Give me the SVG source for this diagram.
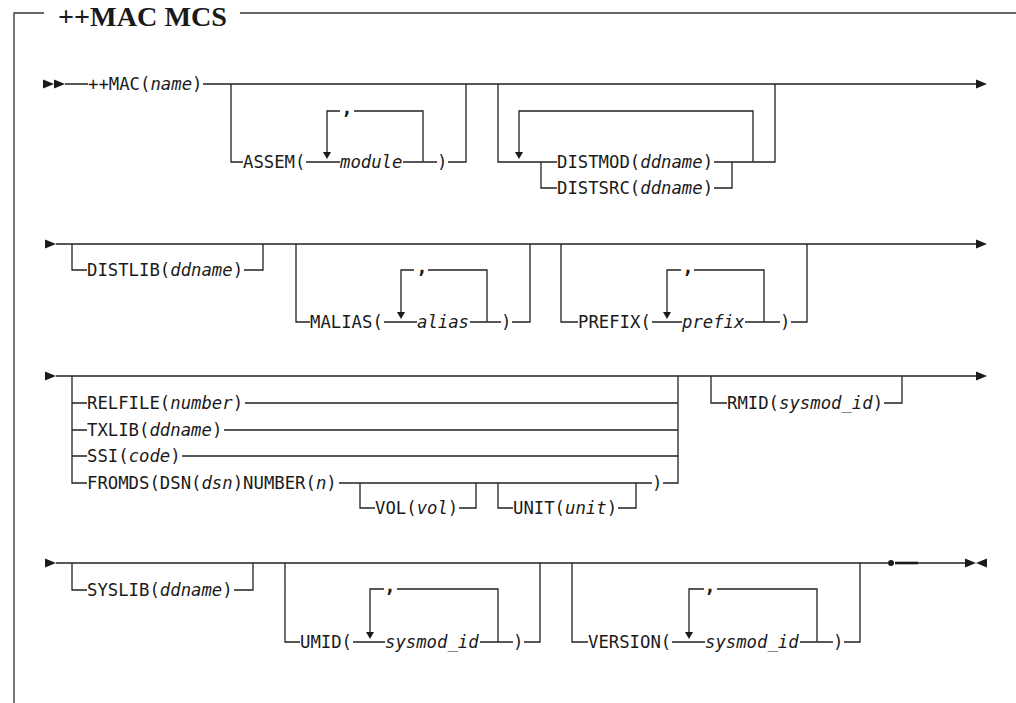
<svg xmlns="http://www.w3.org/2000/svg" xmlns:xlink="http://www.w3.org/1999/xlink" width="1016" height="703" viewBox="0 0 1016 703">
<style>
.ln{fill:none;stroke:#222;stroke-width:1.3}
.fr{fill:none;stroke:#333;stroke-width:1.3}
.t{font-family:"DejaVu Sans Mono",monospace;font-size:17.3px;fill:#1a1a1a}
.i{font-style:italic}
.cm{font-family:"DejaVu Sans Mono",monospace;font-size:19px;font-weight:bold;fill:#1a1a1a}
.ttl{font-family:"Liberation Serif","Times New Roman",serif;font-weight:bold;font-size:27px;fill:#1a1a1a}
.ar{fill:#1a1a1a}
</style>
<defs>
<path id="rt" d="M0,-4.5 L11,0 L0,4.5Z"/>
<path id="lf" d="M0,0 L11,-4.5 L11,4.5Z"/>
<path id="dn" d="M-4,-7 L4,-7 L0,0Z"/>
</defs>
<rect width="1016" height="703" fill="#fff"/>
<g id="frame">
<path class="fr" d="M44,13 H14 V703 M240,13 H1016"/>
<text class="ttl" x="58" y="26" textLength="169" lengthAdjust="spacingAndGlyphs">++MAC MCS</text>
</g>
<g id="connectors">
<path class="ln" d="M65,84 H88 M203,84 H976
M231,84 V162 H243 M306,162 H340 M403,162 H437 M448,162 H466 V84
M423,162 V111 H354 M340,111 H327 V152
M498,84 V162 H557 M714,162 H775 V84 M541,162 V188 H557 M714,188 H732 V162
M753,162 V111 H519 V152"/>
<path class="ln" d="M56,244 H976
M72,244 V270 H87 M244,270 H263 V244
M296,244 V322 H310 M384,322 H417 M470,322 H501 M512,322 H530 V244
M487,322 V270 H428 M414,270 H401 V312
M561,244 V322 H578 M652,322 H682 M745,322 H780 M791,322 H807 V244
M764,322 V270 H694 M681,270 H667 V312"/>
<path class="ln" d="M56,376 H976
M72,376 V483 H87 M72,403 H87 M72,430 H87 M72,456 H87
M245,403 H678 M224,430 H678 M182,456 H678
M339,483 H652 M663,483 H678 V376
M360,483 V508 H375 M459,508 H476 V483
M498,483 V508 H513 M618,508 H636 V483
M711,376 V403 H727 M884,403 H902 V376"/>
<path class="ln" d="M56,563 H888
M72,563 V590 H87 M234,590 H253 V563
M285,563 V642 H300 M353,642 H385 M480,642 H513 M524,642 H540 V563
M498,642 V589 H397 M384,589 H370 V632
M572,563 V642 H588 M672,642 H705 M800,642 H833 M844,642 H860 V563
M817,642 V589 H717 M704,589 H689 V632
M918,563 H965"/>
<path d="M895,563 H918" stroke="#1a1a1a" stroke-width="2.6" fill="none"/>
<circle cx="891" cy="563" r="3" class="ar"/>
<g class="ar">
<use xlink:href="#rt" x="43" y="84"/>
<use xlink:href="#rt" x="54" y="84"/>
<use xlink:href="#rt" x="976" y="84"/>
<use xlink:href="#rt" x="45" y="244"/>
<use xlink:href="#rt" x="976" y="244"/>
<use xlink:href="#rt" x="45" y="376"/>
<use xlink:href="#rt" x="976" y="376"/>
<use xlink:href="#rt" x="45" y="563"/>
<use xlink:href="#rt" x="965" y="563"/>
<use xlink:href="#lf" x="976" y="563"/>
<use xlink:href="#dn" x="327" y="159"/>
<use xlink:href="#dn" x="519" y="159"/>
<use xlink:href="#dn" x="401" y="319"/>
<use xlink:href="#dn" x="667" y="319"/>
<use xlink:href="#dn" x="370" y="639"/>
<use xlink:href="#dn" x="689" y="639"/>
</g>
</g>
<g id="n-mac"><text class="t" x="88" y="90">++MAC(<tspan class="i">name</tspan>)</text></g>
<g id="n-assem">
<text class="t" x="243" y="168">ASSEM(</text>
<text class="t i" x="340" y="168">module</text>
<text class="t" x="437" y="168">)</text>
<text class="cm" x="347" y="114" text-anchor="middle">,</text>
</g>
<g id="n-distmod"><text class="t" x="557" y="168">DISTMOD(<tspan class="i">ddname</tspan>)</text></g>
<g id="n-distsrc"><text class="t" x="557" y="194">DISTSRC(<tspan class="i">ddname</tspan>)</text></g>
<g id="n-distlib"><text class="t" x="87" y="276">DISTLIB(<tspan class="i">ddname</tspan>)</text></g>
<g id="n-malias">
<text class="t" x="310" y="328">MALIAS(</text>
<text class="t i" x="417" y="328">alias</text>
<text class="t" x="501" y="328">)</text>
<text class="cm" x="422" y="273" text-anchor="middle">,</text>
</g>
<g id="n-prefix">
<text class="t" x="578" y="328">PREFIX(</text>
<text class="t i" x="682" y="328">prefix</text>
<text class="t" x="780" y="328">)</text>
<text class="cm" x="688" y="273" text-anchor="middle">,</text>
</g>
<g id="n-relfile"><text class="t" x="87" y="409">RELFILE(<tspan class="i">number</tspan>)</text></g>
<g id="n-txlib"><text class="t" x="87" y="436">TXLIB(<tspan class="i">ddname</tspan>)</text></g>
<g id="n-ssi"><text class="t" x="87" y="462">SSI(<tspan class="i">code</tspan>)</text></g>
<g id="n-fromds">
<text class="t" x="87" y="489">FROMDS(DSN(<tspan class="i">dsn</tspan>)NUMBER(<tspan class="i">n</tspan>)</text>
<text class="t" x="652" y="489">)</text>
</g>
<g id="n-vol"><text class="t" x="375" y="514">VOL(<tspan class="i">vol</tspan>)</text></g>
<g id="n-unit"><text class="t" x="513" y="514">UNIT(<tspan class="i">unit</tspan>)</text></g>
<g id="n-rmid"><text class="t" x="727" y="409">RMID(<tspan class="i">sysmod_id</tspan>)</text></g>
<g id="n-syslib"><text class="t" x="87" y="596">SYSLIB(<tspan class="i">ddname</tspan>)</text></g>
<g id="n-umid">
<text class="t" x="300" y="648">UMID(</text>
<text class="t i" x="385" y="648">sysmod_id</text>
<text class="t" x="513" y="648">)</text>
<text class="cm" x="390" y="592" text-anchor="middle">,</text>
</g>
<g id="n-version">
<text class="t" x="588" y="648">VERSION(</text>
<text class="t i" x="705" y="648">sysmod_id</text>
<text class="t" x="833" y="648">)</text>
<text class="cm" x="710" y="592" text-anchor="middle">,</text>
</g>
</svg>
